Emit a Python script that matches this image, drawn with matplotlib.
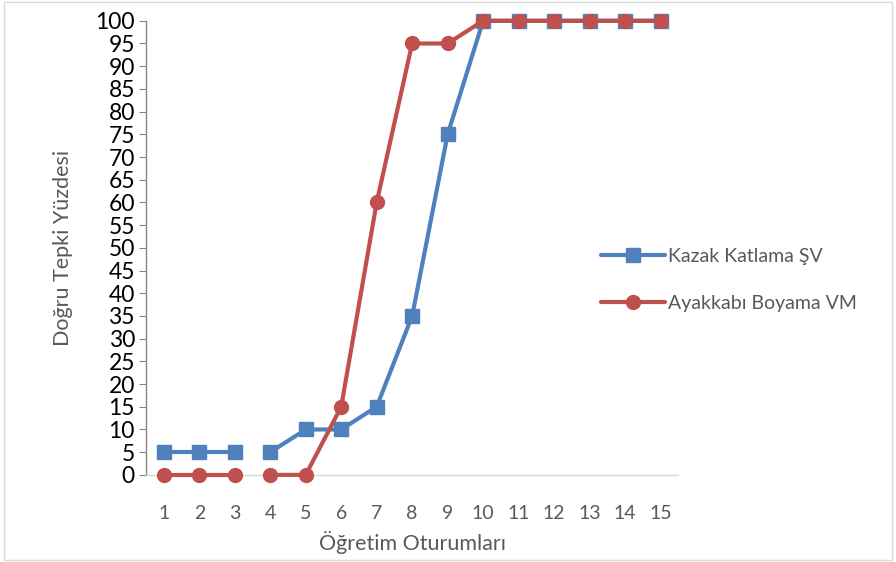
import numpy as np
import matplotlib.pyplot as plt
from matplotlib.lines import Line2D

# Data
sessions = list(range(1, 16))
kazak = [5, 5, 5, 5, 10, 10, 15, 35, 75, 100, 100, 100, 100, 100, 100]
ayakkabi = [0, 0, 0, 0, 0, 15, 60, 95, 95, 100, 100, 100, 100, 100, 100]
labels = ["Kazak Katlama ŞV", "Ayakkabı Boyama VM"]
colors = ["#4F81BD", "#C0504D"]
markers = ["s", "o"]
phase_break = 3  # no line between session 3 and 4

plt.rcParams['font.family'] = ['Lato', 'DejaVu Sans']

fig = plt.figure(figsize=(8.96, 5.62), dpi=100)
ax = fig.add_axes([0.163, 0.155, 0.594, 0.808])

x = np.arange(len(sessions))
handles = []
for vals, col, mk, lab in zip([kazak, ayakkabi], colors, markers, labels):
    ms = 10 if mk == "o" else 9.5
    for seg in (slice(0, phase_break), slice(phase_break, None)):
        ax.plot(x[seg], vals[seg], color=col, lw=3, marker=mk,
                markersize=ms, solid_capstyle='round',
                clip_on=False, zorder=3)
    handles.append(Line2D([], [], color=col, lw=3, marker=mk,
                          markersize=ms, solid_capstyle='round'))

ax.set_xlim(-0.5, len(sessions) - 0.5)
ax.set_ylim(0, 100)
ax.set_yticks(range(0, 101, 5))
ax.set_yticklabels([str(v) for v in range(0, 101, 5)], fontsize=16.5, color='black')
ax.set_xticks(x)
ax.set_xticklabels([str(s) for s in sessions], fontsize=14, color='#595959')
ax.tick_params(axis='x', length=0, pad=22)
ax.tick_params(axis='y', length=5, color='#868686', pad=3)

for side in ['top', 'right']:
    ax.spines[side].set_visible(False)
ax.spines['left'].set_color('#868686')
ax.spines['bottom'].set_color('#D9D9D9')
ax.spines['left'].set_linewidth(1)
ax.spines['bottom'].set_linewidth(1)

ax.set_xlabel("Öğretim Oturumları", fontsize=15.5, color='#595959', labelpad=6)
ax.set_ylabel("Doğru Tepki Yüzdesi", fontsize=15.5, color='#595959', labelpad=16)

leg = ax.legend(handles, labels, loc='center left', bbox_to_anchor=(0.84, 0.43),
                frameon=False, fontsize=14, labelcolor='#595959',
                handlelength=3.3, handletextpad=0.15, labelspacing=1.55,
                borderaxespad=0)

# chart border
fig.patches.append(plt.Rectangle((0.004, 0.004), 0.992, 0.992, transform=fig.transFigure,
                                 fill=False, edgecolor='#D9D9D9', lw=1))

fig.savefig("out.png", dpi=100)
